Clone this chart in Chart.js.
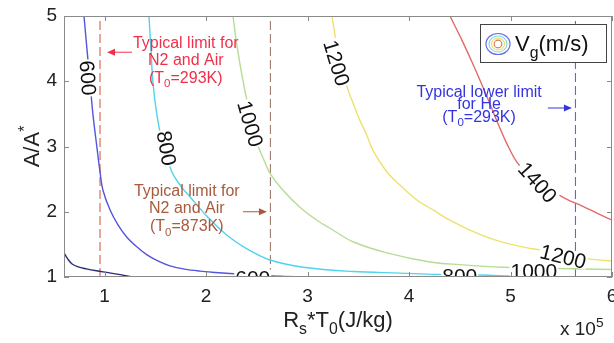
<!DOCTYPE html>
<html>
<head>
<meta charset="utf-8">
<script src="https://cdn.jsdelivr.net/npm/chart.js@4.4.1/dist/chart.umd.min.js"></script>
<style>
  html, body { margin: 0; padding: 0; background: #fff; }
</style>
</head>
<body>
<canvas id="vgChart" width="614" height="343"></canvas>
<script>
// axis ticks (x in units of 1e5 J/kg)
const xTicks = [1, 2, 3, 4, 5, 6];
const yTicks = [1, 2, 3, 4, 5];

// contour levels of gas velocity V_g (m/s)
const contourLevels = [400, 600, 800, 1000, 1200, 1400];

// points along each contour: x = Rs*T0 (1e5 J/kg), y = A/A*
const x400 = [0.60, 0.64, 0.68, 0.74, 0.82, 0.92, 1.02, 1.14, 1.28];
const y400 = [1.37, 1.27, 1.20, 1.155, 1.125, 1.095, 1.07, 1.04, 1.00];

const x600 = [0.797, 0.827, 0.856, 0.886, 0.925, 0.955, 0.984, 1.053, 1.132, 1.22, 1.32, 1.418, 1.546, 1.644, 1.79, 1.94, 2.09, 2.235, 2.50, 2.73, 3.05];
const y600 = [5.00, 4.48, 3.99, 3.48, 2.98, 2.61, 2.33, 2.03, 1.80, 1.61, 1.46, 1.34, 1.23, 1.17, 1.12, 1.09, 1.07, 1.054, 1.03, 1.012, 1.00];

const x800 = [1.437, 1.457, 1.477, 1.516, 1.575, 1.664, 1.753, 1.841, 2.009, 2.206, 2.403, 2.63, 2.955, 3.447, 3.91, 4.275, 4.70, 4.99, 5.29];
const y800 = [5.00, 4.48, 3.97, 3.48, 3.02, 2.61, 2.39, 2.23, 1.93, 1.64, 1.43, 1.26, 1.15, 1.084, 1.06, 1.04, 1.03, 1.015, 1.00];

const x1000 = [2.265, 2.304, 2.354, 2.413, 2.492, 2.571, 2.63, 2.758, 2.925, 3.093, 3.25, 3.447, 3.782, 4.206, 4.50, 4.925, 5.457, 6.00];
const y1000 = [5.00, 4.55, 4.09, 3.63, 3.10, 2.79, 2.59, 2.33, 2.07, 1.87, 1.72, 1.54, 1.37, 1.23, 1.19, 1.15, 1.13, 1.115];

const x1200 = [3.24, 3.28, 3.33, 3.39, 3.457, 3.516, 3.585, 3.644, 3.782, 3.91, 4.078, 4.236, 4.403, 4.60, 4.846, 5.093, 5.339, 5.585, 5.81, 6.00];
const y1200 = [5.00, 4.63, 4.28, 3.91, 3.63, 3.40, 3.17, 2.94, 2.61, 2.41, 2.18, 2.03, 1.87, 1.72, 1.57, 1.47, 1.40, 1.32, 1.27, 1.245];

const x1400 = [4.403, 4.521, 4.639, 4.758, 4.866, 4.965, 5.063, 5.172, 5.27, 5.408, 5.556, 5.703, 5.851, 6.00];
const y1400 = [5.00, 4.63, 4.23, 3.80, 3.39, 3.04, 2.76, 2.58, 2.45, 2.32, 2.19, 2.09, 1.98, 1.87];

const contourX = [x400, x600, x800, x1000, x1200, x1400];
const contourY = [y400, y600, y800, y1000, y1200, y1400];
const contourColors = ['#2b2b78', '#5454de', '#4fd3ee', '#b6dd96', '#ece26c', '#e26a6a'];

// inline contour labels
const labelText  = ['600', '800', '1000', '1200', '1400', '600', '800', '1000', '1200'];
const labelX     = [0.84, 1.615, 2.44, 3.29, 5.27, 2.46, 4.50, 5.23, 5.52];
const labelY     = [4.05, 2.975, 3.35, 4.28, 2.455, 0.99, 1.02, 1.10, 1.32];
const labelAngle = [86, 80, 74, 73, 48, 0, 0, 0, 14];

// typical limits of Rs*T0 (dashed verticals)
const limitX = [0.955, 2.634, 5.64];
const limitColors = ['#d4604c', '#9c7c6c', '#6262f2'];

const notes = [
  { lines: ['Typical limit for', 'N2 and Air', '(T_0=293K)'], x: 1.80, y: 4.60, gap: 17.5, color: '#f0304a',
    arrow: [1.27, 1.024, 4.445] },
  { lines: ['Typical limit for', 'N2 and Air', '(T_0=873K)'], x: 1.81, y: 2.33, gap: 17.5, color: '#a85a3c',
    arrow: [2.364, 2.60, 2.00] },
  { lines: ['Typical lower limit', 'for He', '(T_0=293K)'], x: 4.69, y: 3.85, gap: 12.5, color: '#3434e0',
    arrow: [5.368, 5.605, 3.59] }
];

const FONT = 'Liberation Sans, Arial, sans-serif';

// simple TeX-like text: _x subscript, ^x superscript
function richParts(str) {
  const parts = [];
  for (let i = 0; i < str.length; i++) {
    const c = str[i];
    if ((c === '_' || c === '^') && i + 1 < str.length) {
      parts.push({ t: str[i + 1], s: c === '_' ? 1 : -1 });
      i++;
    } else {
      const last = parts[parts.length - 1];
      if (last && last.s === 0) last.t += c;
      else parts.push({ t: c, s: 0 });
    }
  }
  return parts;
}

function drawRich(ctx, str, x, y, size, align) {
  const parts = richParts(str);
  let w = 0;
  parts.forEach(p => {
    ctx.font = (p.s ? size * 0.72 : size) + 'px ' + FONT;
    p.w = ctx.measureText(p.t).width;
    w += p.w;
  });
  let cx = align === 'center' ? x - w / 2 : align === 'right' ? x - w : x;
  ctx.textAlign = 'left';
  ctx.textBaseline = 'alphabetic';
  parts.forEach(p => {
    ctx.font = (p.s ? size * 0.72 : size) + 'px ' + FONT;
    const dy = p.s > 0 ? size * 0.3 : p.s < 0 ? -size * 0.42 : 0;
    ctx.fillText(p.t, cx, y + dy);
    cx += p.w;
  });
  return w;
}

function arrow(ctx, x1, x2, y, color) {
  const dir = Math.sign(x2 - x1);
  ctx.strokeStyle = color;
  ctx.fillStyle = color;
  ctx.lineWidth = 1;
  ctx.beginPath();
  ctx.moveTo(x1, y);
  ctx.lineTo(x2 - dir * 6, y);
  ctx.stroke();
  ctx.beginPath();
  ctx.moveTo(x2, y);
  ctx.lineTo(x2 - dir * 8, y - 3.5);
  ctx.lineTo(x2 - dir * 8, y + 3.5);
  ctx.closePath();
  ctx.fill();
}

const decorations = {
  id: 'decorations',
  afterDatasetsDraw(chart) {
    const { ctx, chartArea: ca, scales: { x: xs, y: ys } } = chart;
    ctx.save();
    ctx.beginPath();
    ctx.rect(ca.left, ca.top, ca.right - ca.left, ca.bottom - ca.top);
    ctx.clip();
    labelText.forEach((t, i) => {
      const px = xs.getPixelForValue(labelX[i]);
      const py = ys.getPixelForValue(labelY[i]);
      ctx.save();
      ctx.translate(px, py);
      ctx.rotate(labelAngle[i] * Math.PI / 180);
      ctx.font = '21px ' + FONT;
      const w = ctx.measureText(t).width;
      ctx.fillStyle = '#fff';
      ctx.fillRect(-w / 2 - 1, -8, w + 2, 16);
      ctx.fillStyle = '#111';
      ctx.textAlign = 'center';
      ctx.textBaseline = 'alphabetic';
      ctx.fillText(t, 0, 21 * 0.36);
      ctx.restore();
    });
    ctx.restore();
  },
  afterDraw(chart) {
    const { ctx, chartArea: ca, scales: { x: xs, y: ys } } = chart;
    ctx.save();

    // notes and arrows
    notes.forEach(n => {
      const cx = xs.getPixelForValue(n.x);
      const cy = ys.getPixelForValue(n.y);
      n.lines.forEach((l, i) => {
        ctx.fillStyle = n.color;
        drawRich(ctx, l, cx, cy + i * n.gap + 5.5, 16, 'center');
      });
      arrow(ctx, xs.getPixelForValue(n.arrow[0]), xs.getPixelForValue(n.arrow[1]),
        ys.getPixelForValue(n.arrow[2]), n.color);
    });

    // axes box with inward ticks
    ctx.strokeStyle = '#8a8a8a';
    ctx.lineWidth = 1;
    ctx.strokeRect(ca.left + 0.5, ca.top + 0.5, ca.right - ca.left - 1, ca.bottom - ca.top - 1);
    ctx.beginPath();
    xTicks.forEach(v => {
      const px = Math.round(xs.getPixelForValue(v)) + 0.5;
      ctx.moveTo(px, ca.bottom); ctx.lineTo(px, ca.bottom - 5);
      ctx.moveTo(px, ca.top); ctx.lineTo(px, ca.top + 5);
    });
    yTicks.forEach(v => {
      const py = Math.round(ys.getPixelForValue(v)) + 0.5;
      ctx.moveTo(ca.left, py); ctx.lineTo(ca.left + 5, py);
      ctx.moveTo(ca.right, py); ctx.lineTo(ca.right - 5, py);
    });
    ctx.stroke();

    // legend
    const lx = ca.right - 132, ly = ca.top + 8, lw = 126, lh = 38;
    ctx.fillStyle = '#fff';
    ctx.fillRect(lx, ly, lw, lh);
    ctx.strokeStyle = '#444';
    ctx.strokeRect(lx + 0.5, ly + 0.5, lw, lh);
    const ix = lx + 18, iy = ly + 20;
    [[12, 10.5, '#6a6ae6'], [9, 8, '#7fd8e8'], [6.5, 5.8, '#e8e070'], [3.8, 3.8, '#e07a50']].forEach(r => {
      ctx.strokeStyle = r[2];
      ctx.lineWidth = 1.2;
      ctx.beginPath();
      ctx.ellipse(ix, iy, r[0], r[1], 0, 0, Math.PI * 2);
      ctx.stroke();
    });
    ctx.fillStyle = '#111';
    drawRich(ctx, 'V_g(m/s)', lx + 35, ly + 27, 22, 'left');

    // axis titles
    ctx.fillStyle = '#222';
    drawRich(ctx, 'R_s*T_0(J/kg)', (ca.left + ca.right) / 2, 327, 22, 'center');
    drawRich(ctx, 'x 10^5', 560, 335, 19, 'left');
    ctx.save();
    ctx.translate(39, (ca.top + ca.bottom) / 2);
    ctx.rotate(-Math.PI / 2);
    drawRich(ctx, 'A/A^*', 0, 0, 22, 'center');
    ctx.restore();

    ctx.restore();
  }
};

const datasets = contourLevels.map((lv, i) => ({
  label: 'V_g = ' + lv,
  data: contourX[i].map((x, j) => ({ x: x, y: contourY[i][j] })),
  borderColor: contourColors[i],
  borderWidth: 1.4,
  showLine: true,
  pointRadius: 0,
  tension: 0.35,
  fill: false
}));

limitX.forEach((x, i) => {
  datasets.push({
    label: 'limit ' + (i + 1),
    data: [{ x: x, y: 1 }, { x: x, y: 5 }],
    borderColor: limitColors[i],
    borderWidth: 1.1,
    borderDash: [9, 4],
    showLine: true,
    pointRadius: 0,
    fill: false
  });
});

Chart.defaults.font.family = FONT;

new Chart(document.getElementById('vgChart').getContext('2d'), {
  type: 'scatter',
  data: { datasets: datasets },
  options: {
    responsive: false,
    animation: false,
    layout: { padding: { top: 16, right: 2, left: 0, bottom: 0 }, autoPadding: false },
    plugins: { legend: { display: false }, tooltip: { enabled: false } },
    scales: {
      x: {
        type: 'linear',
        min: 0.6,
        max: 6,
        afterBuildTicks: s => { s.ticks = xTicks.map(v => ({ value: v })); },
        afterFit: s => { s.height = 66; s.paddingLeft = 0; s.paddingRight = 0; },
        grid: { display: false, drawTicks: false },
        border: { display: false },
        ticks: { font: { size: 19 }, color: '#222', padding: 8, maxRotation: 0 }
      },
      y: {
        type: 'linear',
        min: 1,
        max: 5,
        afterBuildTicks: s => { s.ticks = yTicks.map(v => ({ value: v })); },
        afterFit: s => { s.width = 64; s.paddingTop = 0; s.paddingBottom = 0; },
        grid: { display: false, drawTicks: false },
        border: { display: false },
        ticks: { font: { size: 19 }, color: '#222', padding: 7 }
      }
    }
  },
  plugins: [decorations]
});
</script>
</body>
</html>
